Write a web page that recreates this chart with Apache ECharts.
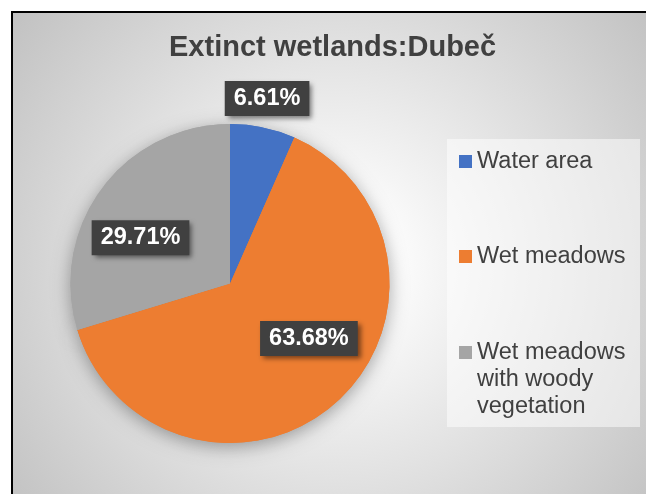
<!DOCTYPE html>
<html>
<head>
<meta charset="utf-8">
<script src="https://cdn.jsdelivr.net/npm/echarts@6/dist/echarts.min.js"></script>
<style>
  html, body { margin: 0; padding: 0; background: #ffffff; }
  #chart { width: 646px; height: 494px; }
</style>
</head>
<body>
<div id="chart"></div>
<script>
// Wetland categories and their share of the area (%)
const categories = ['Water area', 'Wet meadows', 'Wet meadows with woody vegetation'];
const shares = [6.61, 63.68, 29.71];
const sliceColors = ['#4472C4', '#ED7D31', '#A5A5A5'];
const chartTitle = 'Extinct wetlands:Dubeč';

// legend text with manual line breaks; two blank lines on top keep the
// marker level with the first written line of the wrapped entry
const legendText = {
  'Water area': 'Water area',
  'Wet meadows': 'Wet meadows',
  'Wet meadows with woody vegetation': ' \n \nWet meadows\nwith woody\nvegetation'
};

// nudges for the percentage boxes (dx, dy) relative to the inside position
const labelNudge = [[20, -104], [24, -7], [-23, 3.5]];

const FONT = '"Liberation Sans", Arial, Helvetica, sans-serif';
const pieCenter = [230, 283.5];
const pieRadius = 159.5;

const pieData = categories.map((name, i) => ({ name: name, value: shares[i] }));

function legendFor(index, top) {
  return {
    data: [categories[index]],
    orient: 'vertical',
    left: 459,
    top: top,
    padding: 0,
    icon: 'rect',
    itemWidth: 13,
    itemHeight: 13,
    selectedMode: false,
    formatter: name => legendText[name],
    textStyle: {
      fontFamily: FONT,
      fontSize: 23.5,
      color: '#404040',
      lineHeight: 27
    }
  };
}

const chart = echarts.init(document.getElementById('chart'), null, { renderer: 'canvas' });

chart.setOption({
  animation: false,
  color: sliceColors,
  graphic: [
    {
      type: 'rect',
      z: -10,
      shape: { x: 12, y: 12, width: 720, height: 600 },
      style: {
        fill: {
          type: 'radial', x: 335, y: 265, r: 440, global: true,
          colorStops: [
            { offset: 0, color: '#ffffff' },
            { offset: 0.15, color: '#fbfbfb' },
            { offset: 1, color: '#bcbcbc' }
          ]
        },
        stroke: '#000000',
        lineWidth: 2
      }
    },
    {
      type: 'rect',
      z: -5,
      shape: { x: 447, y: 139, width: 193, height: 288 },
      style: { fill: 'rgba(255,255,255,0.5)' }
    }
  ],
  title: {
    text: chartTitle,
    left: 169,
    top: 33,
    padding: 0,
    textStyle: {
      fontFamily: FONT,
      fontSize: 29,
      fontWeight: 'bold',
      color: '#404040'
    }
  },
  legend: [
    legendFor(0, 148),
    legendFor(1, 243),
    legendFor(2, 285)
  ],
  series: [
    {
      name: 'Wetlands',
      type: 'pie',
      z: 3,
      center: pieCenter,
      radius: pieRadius,
      startAngle: 90,
      clockwise: true,
      silent: true,
      data: pieData,
      itemStyle: { borderWidth: 0 },
      label: {
        show: true,
        position: 'inside',
        formatter: p => p.value.toFixed(2) + '%',
        fontFamily: FONT,
        fontSize: 23.5,
        fontWeight: 'bold',
        color: '#ffffff',
        backgroundColor: '#404040',
        padding: [6, 9, 5, 9],
        shadowColor: 'rgba(0,0,0,0.5)',
        shadowBlur: 5,
        shadowOffsetX: 3,
        shadowOffsetY: 3
      },
      labelLine: { show: false },
      labelLayout: p => ({ dx: labelNudge[p.dataIndex][0], dy: labelNudge[p.dataIndex][1] }),
      emphasis: { disabled: true }
    },
    {
      // soft drop shadow underneath the pie
      name: 'Wetlands shadow',
      type: 'pie',
      z: 1,
      center: pieCenter,
      radius: pieRadius,
      startAngle: 90,
      silent: true,
      data: pieData,
      label: { show: false },
      labelLine: { show: false },
      itemStyle: {
        shadowColor: 'rgba(0,0,0,0.35)',
        shadowBlur: 18,
        shadowOffsetY: 4
      },
      emphasis: { disabled: true }
    }
  ]
});
</script>
</body>
</html>
